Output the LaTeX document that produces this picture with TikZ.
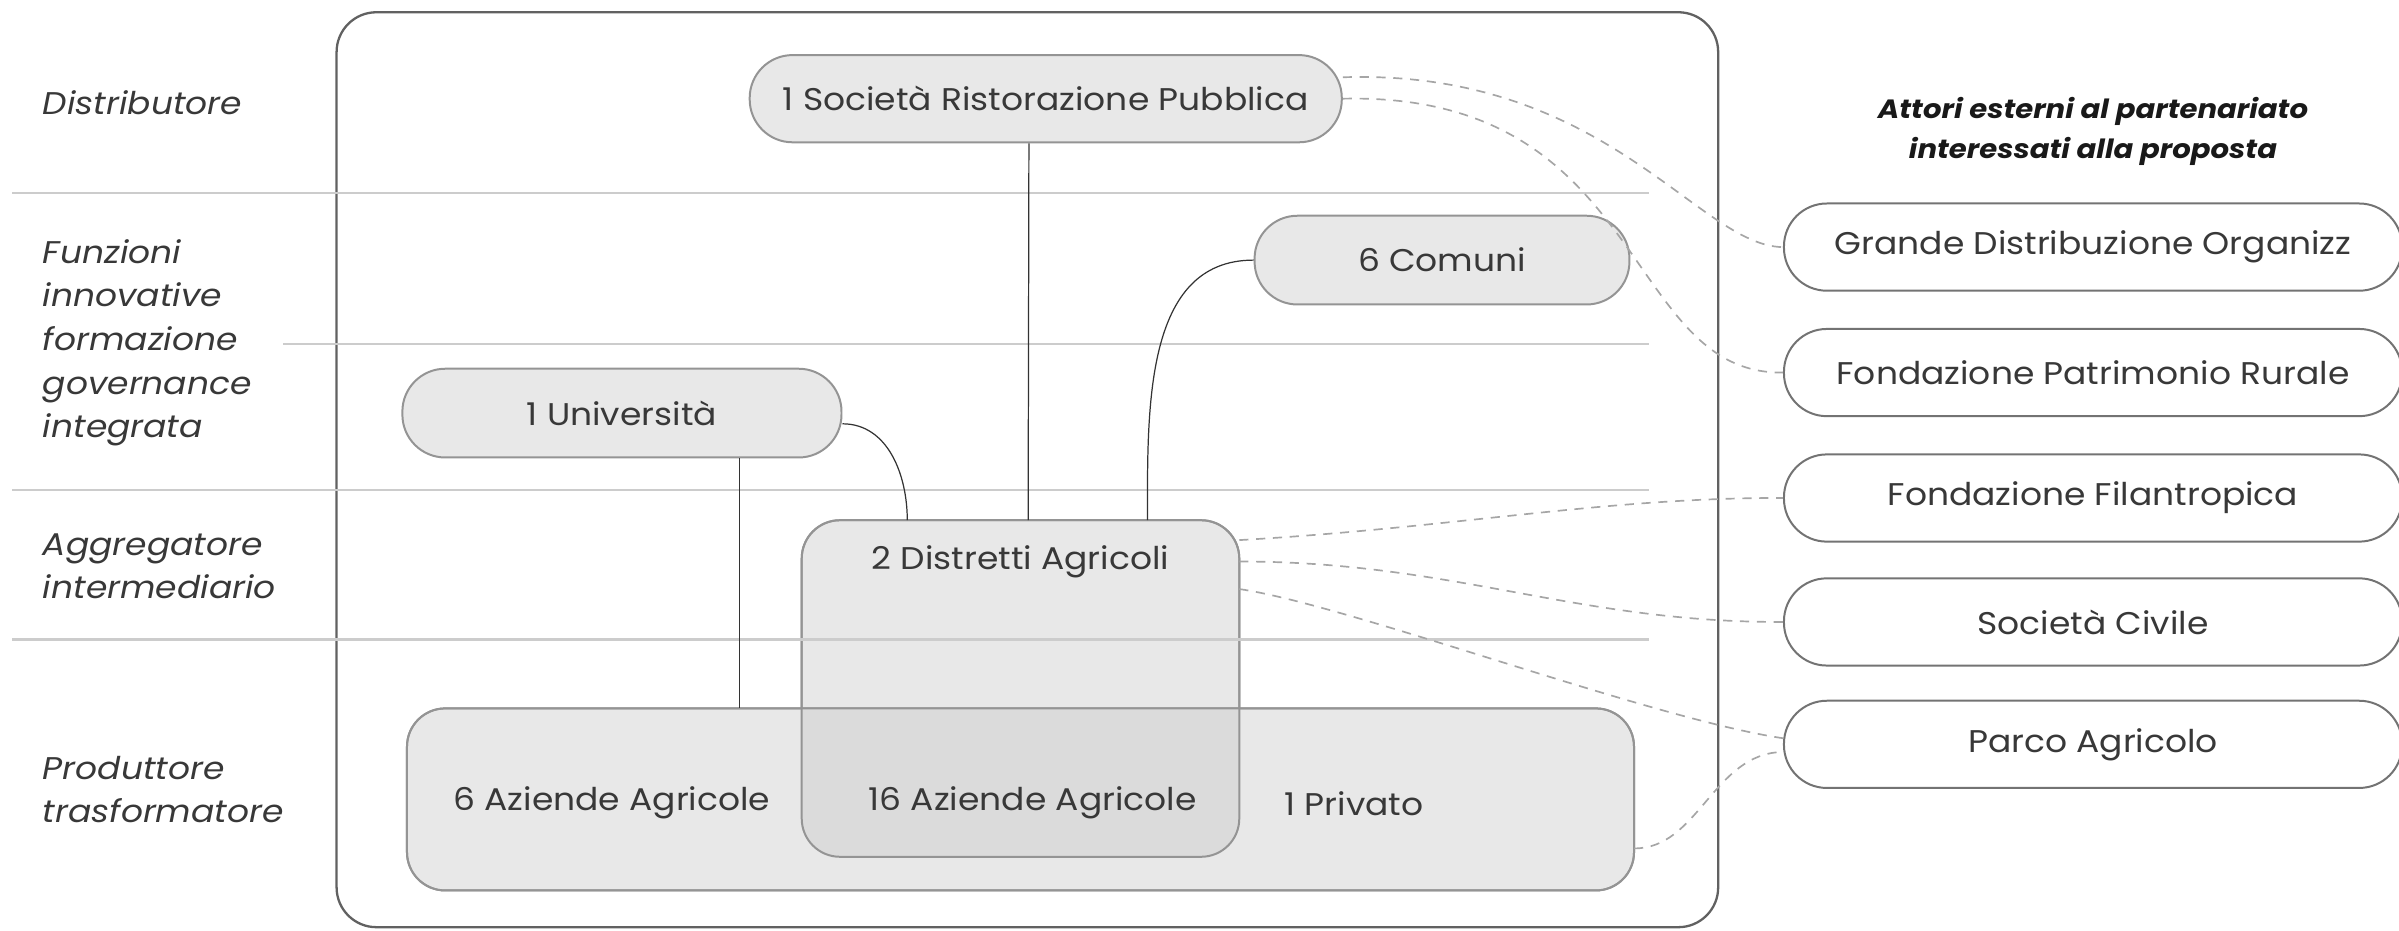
\documentclass[tikz,border=0pt]{standalone}
\usepackage{fontspec}
\setmainfont{Poppins}[FakeStretch=1.1]
\begin{document}
\begin{tikzpicture}[x=1pt,y=-1pt,
  txt/.style={text=black!78, font=\fontsize{20.5}{24}\selectfont},
  side/.style={txt, font=\fontsize{20.5}{28.5}\selectfont\itshape, anchor=west, align=left},
  sep/.style={draw=black!20, line width=1.4pt},
  boxline/.style={draw=black!42, line width=1.3pt},
  pill/.style={txt, boxline, fill=black!9, rounded corners=28pt, inner sep=0pt},
  ext/.style={txt, draw=black!55, line width=1.3pt, fill=white, rounded corners=28pt, inner sep=0pt, minimum width=404pt, minimum height=57pt},
  solid line/.style={draw=black!80, line width=0.8pt},
  dash line/.style={draw=black!35, line width=1.1pt, dash pattern=on 6pt off 5pt},
]
\useasboundingbox (0,0) rectangle (1568,608.5);
% outer frame
\node[draw=black!62, line width=1.5pt, rounded corners=26pt, minimum width=903pt, minimum height=598pt, inner sep=0pt] (frame) at (671.5,307) {};
% overlapping boxes
\node[boxline, fill=black!9, rounded corners=25pt, minimum width=286pt, minimum height=220pt, inner sep=0pt, outer sep=0pt] (dis) at (667,450) {};
\node[boxline, fill=black!9, rounded corners=25pt, minimum width=802pt, minimum height=119pt, inner sep=0pt, outer sep=0pt] (bot) at (667,522.5) {};
\begin{scope}
  \clip[rounded corners=25pt] (bot.north west) rectangle (bot.south east);
  \fill[black!14, rounded corners=25pt] (dis.north west) rectangle (dis.south east);
\end{scope}
\draw[boxline, rounded corners=25pt] (dis.north west) rectangle (dis.south east);
\draw[boxline, rounded corners=25pt] (bot.north west) rectangle (bot.south east);
% separators
\draw[sep] (8,126) -- (1078,126);
\draw[sep] (185,225) -- (1078,225);
\draw[sep] (8,320) -- (1078,320);
\draw[sep] (8,418) -- (1078,418);
% side labels
\node[side] (l1) at (24.5,67) {Distributore};
\node[side] (l2) at (24.5,224) {Funzioni\\innovative\\formazione\\governance\\integrata};
\node[side] (l3) at (24.5,370) {Aggregatore\\intermediario};
\node[side] (l4) at (24.5,516) {Produttore\\trasformatore};
% partnership nodes
\node[pill, minimum width=387pt, minimum height=57pt] (pub) at (683.5,64.5) {1 Società Ristorazione Pubblica};
\node[pill, minimum width=245pt, minimum height=58pt] (com) at (942.5,170) {6 Comuni\hspace{40pt}};
\node[pill, minimum width=287pt, minimum height=58pt] (uni) at (406.5,270) {1 Università};
\node[txt] (disl) at (667,367) {2 Distretti Agricoli};
\node[txt] (az6) at (400,525) {6 Aziende Agricole};
\node[txt] (az16) at (675,525) {16 Aziende Agricole};
\node[txt] (priv) at (885,525) {1 Privato};
% solid connectors
\draw[solid line] ([xshift=-11pt]pub.south) -- ([xshift=5pt]dis.north);
\draw[solid line] (com.west) to[out=180,in=90] ([xshift=83pt]dis.north);
\draw[solid line] ([yshift=-7pt]uni.east) to[out=0,in=90] ([xshift=-74pt]dis.north);
\draw[solid line] ([xshift=77pt]uni.south) -- ([xshift=77pt]uni.south |- bot.north);
% title
\node[txt, font=\fontsize{17.3}{26}\selectfont\bfseries\itshape, align=center, text=black!90] (title) at (1368,86) {Attori esterni al partenariato\\interessati alla proposta};
% external actors
\node[ext] (gdo) at (1368,161.5) {Grande Distribuzione Organizz};
\node[ext] (fpr) at (1368,243.5) {Fondazione Patrimonio Rurale};
\node[ext] (ff) at (1368,325.5) {Fondazione Filantropica};
\node[ext] (sc) at (1368,406.5) {Società Civile};
\node[ext] (pa) at (1368,486.5) {Parco Agricolo};
% dashed connectors
\draw[dash line] ([yshift=14pt]pub.east) .. controls (1050,45) and (1110,161) .. (gdo.west);
\draw[dash line] (pub.east) .. controls (1078,60) and (1060,245) .. (fpr.west);
\draw[dash line] ([yshift=97pt]dis.east) .. controls (950,345) and (1050,325) .. (ff.west);
\draw[dash line] ([yshift=83pt]dis.east) .. controls (950,367) and (1030,407) .. (sc.west);
\draw[dash line] ([yshift=65pt]dis.east) .. controls (880,395) and (1080,470) .. ([yshift=4pt]pa.west);
\draw[dash line] ([yshift=-32pt]bot.east) .. controls (1110,555) and (1120,492) .. ([yshift=-5pt]pa.west);
\end{tikzpicture}
\end{document}
